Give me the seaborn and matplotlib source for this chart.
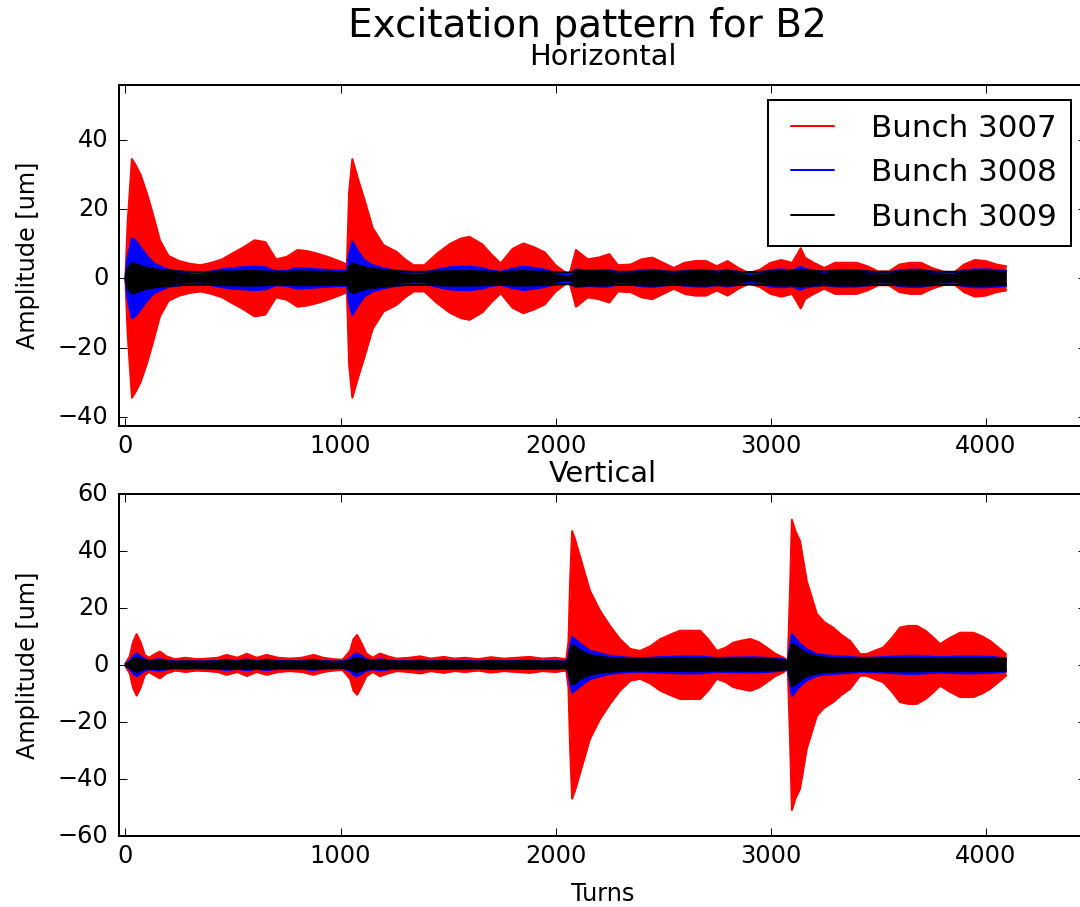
import numpy as np
import matplotlib
matplotlib.use("Agg")
import matplotlib.pyplot as plt
import seaborn as sns

# ---------------- data (amplitude envelopes) ----------------
BUNCHES = ["Bunch 3007", "Bunch 3008", "Bunch 3009"]
COLORS = ["#ff0000", "#0000ff", "#000000"]

TURNS_H = [0, 10, 30, 45, 70, 100, 130, 160, 200, 250,
           300, 350, 400, 450, 500, 550, 600, 650, 700, 750,
           800, 850, 900, 950, 1000, 1030, 1040, 1055, 1080, 1110,
           1150, 1200, 1260, 1300, 1340, 1390, 1450, 1510, 1560, 1600,
           1660, 1700, 1745, 1800, 1850, 1900, 1950, 2000, 2050, 2065,
           2095, 2150, 2200, 2250, 2290, 2350, 2400, 2450, 2500, 2550,
           2600, 2650, 2700, 2750, 2800, 2850, 2900, 2950, 3000, 3050,
           3100, 3120, 3140, 3160, 3200, 3250, 3300, 3350, 3400, 3450,
           3500, 3550, 3600, 3650, 3700, 3750, 3800, 3850, 3900, 3950,
           4000, 4050, 4095]

H_3007 = [0.5, 16, 34.5, 33, 30, 24.5, 18, 11, 6.5, 5,
          4.2, 3.8, 4.5, 5.5, 7.3, 9, 11, 10.5, 5.5, 6.2,
          8.2, 7.8, 7, 6, 4.8, 4, 25, 34.5, 29, 23,
          14.5, 9.6, 7.7, 5.5, 3.8, 3.8, 7.2, 10, 11.5, 12,
          9.8, 7, 4.3, 8.5, 10.1, 9, 7.5, 3.8, 1.5, 1.2,
          8.2, 5.5, 6, 7, 3.8, 4, 5.5, 6, 4.5, 3,
          4.5, 5, 5, 3.5, 5, 3, 1.5, 2.5, 4.5, 5.3,
          4.5, 6.5, 8.7, 6, 4.5, 3, 4.5, 4.5, 4.5, 3.5,
          2, 2, 4, 4.5, 4.5, 3, 2, 1.5, 4, 5.3,
          5, 4, 3.5]

H_3008 = [0.3, 6, 11.6, 11, 9, 6.5, 4.4, 3.5, 2.5, 2,
          1.6, 1.5, 2, 2.6, 3, 3.2, 3.4, 3.2, 2, 2.2,
          3, 2.8, 2.6, 2.4, 2.2, 2.2, 7, 10.6, 8, 5.3,
          3.8, 2.9, 2.2, 1.8, 1.5, 1.6, 2.5, 3.2, 3.4, 3.4,
          3, 2.2, 1.9, 2.8, 3.4, 3, 2.5, 1.6, 1, 1,
          2.6, 2.2, 2.4, 2.4, 1.7, 1.8, 2.3, 2.5, 2.1, 1.7,
          2.1, 2.4, 2.4, 1.9, 2.4, 1.8, 1.3, 1.6, 2.4, 2.6,
          2.3, 2.8, 3.3, 2.7, 2.3, 1.8, 2.4, 2.4, 2.4, 2,
          1.6, 1.6, 2.3, 2.5, 2.5, 1.9, 1.6, 1.5, 2.3, 2.6,
          2.6, 2.4, 2.2]

H_3009 = [0.3, 3, 4.4, 4.2, 3.6, 3, 2.7, 2.4, 2.2, 2,
          1.9, 1.8, 1.9, 2, 2, 2.1, 2.1, 2, 1.9, 1.9,
          2, 2, 1.9, 1.9, 1.8, 1.8, 3.5, 4.3, 3.8, 3.2,
          2.8, 2.4, 2.1, 2, 1.9, 1.9, 2, 2.1, 2.1, 2.1,
          2, 1.9, 1.8, 2, 2.1, 2, 1.9, 1.8, 1.7, 1.7,
          2.2, 2.1, 2.1, 2, 1.9, 1.9, 2, 2.1, 2, 1.9,
          2, 2.1, 2.1, 2, 2.1, 1.9, 1.8, 1.9, 2, 2.1,
          2.1, 2.2, 2.4, 2.2, 2.1, 2, 2.1, 2.1, 2.1, 2,
          1.9, 1.9, 2, 2.1, 2.1, 2, 1.9, 1.9, 2, 2.1,
          2.1, 2, 1.9]

TURNS_V = [0, 20, 35, 52, 70, 90, 110, 130, 160, 190,
           230, 280, 330, 380, 430, 470, 520, 564, 610, 657,
           710, 765, 820, 874, 920, 967, 1010, 1045, 1060, 1077,
           1095, 1120, 1150, 1184, 1220, 1260, 1320, 1370, 1420, 1480,
           1530, 1580, 1640, 1700, 1760, 1820, 1880, 1940, 2000, 2050,
           2060, 2068, 2077, 2091, 2114, 2160, 2207, 2253, 2300, 2347,
           2393, 2440, 2486, 2530, 2579, 2625, 2672, 2710, 2750, 2790,
           2826, 2865, 2905, 2945, 2982, 3020, 3059, 3080, 3090, 3099,
           3115, 3137, 3168, 3215, 3250, 3291, 3330, 3370, 3416, 3447,
           3485, 3524, 3565, 3602, 3640, 3680, 3720, 3757, 3788, 3835,
           3881, 3943, 3985, 4021, 4060, 4095]

V_3007 = [0.5, 3, 8, 10.8, 8, 3.5, 2.5, 3.5, 4.7, 3,
          2, 2.5, 2, 2.2, 2.5, 3.5, 2.5, 3.9, 2.5, 3.5,
          2.5, 2.2, 2.5, 3.5, 2.5, 2, 1.8, 5, 9, 10.5,
          8, 4, 2.5, 4, 3, 2.2, 2.5, 3, 2.2, 2.8,
          2.2, 2.5, 2, 2.7, 2.2, 2.5, 2.8, 2.2, 2.5, 2,
          8, 30, 47, 44, 38, 26, 19, 13.7, 9, 5.6,
          4.9, 6.5, 9, 10.5, 12, 12, 12, 9, 4.9, 6,
          7.8, 8.5, 9.1, 8, 6.1, 4, 2.6, 1.5, 25, 51,
          47, 43.5, 29.5, 17.9, 15, 13.1, 10.5, 8.4, 3.8, 3.8,
          5, 6.1, 9.5, 13.1, 13.7, 13.7, 12, 9.6, 7.3, 9.5,
          11.3, 11.3, 10, 8.4, 6, 3.8]

V_3008 = [0.3, 1.5, 3, 4, 3, 2, 1.5, 1.8, 2, 1.6,
          1.2, 1.3, 1.2, 1.3, 1.4, 1.8, 1.4, 1.9, 1.4, 1.8,
          1.4, 1.3, 1.4, 1.8, 1.4, 1.2, 1.2, 2.2, 3.5, 4,
          3.2, 2, 1.5, 2, 1.6, 1.3, 1.4, 1.6, 1.3, 1.5,
          1.3, 1.4, 1.2, 1.5, 1.3, 1.4, 1.5, 1.3, 1.4, 1.2,
          3, 7, 9.8, 9, 7.5, 5, 4, 3.2, 2.8, 2.5,
          2.4, 2.5, 2.7, 2.8, 3, 3, 3, 2.7, 2.4, 2.5,
          2.6, 2.6, 2.7, 2.6, 2.5, 2.3, 2, 1.5, 6, 10.9,
          9.5, 7.4, 5.5, 3.8, 3.4, 3.2, 3, 2.8, 2.5, 2.5,
          2.6, 2.7, 2.9, 3.1, 3.2, 3.2, 3, 2.8, 2.7, 2.8,
          3, 3, 2.9, 2.8, 2.6, 2.3]

V_3009 = [0.3, 1, 2, 2.5, 2, 1.5, 1.3, 1.4, 1.5, 1.3,
          1.1, 1.2, 1.1, 1.2, 1.2, 1.4, 1.2, 1.5, 1.2, 1.4,
          1.2, 1.2, 1.2, 1.4, 1.2, 1.1, 1.1, 1.5, 2.2, 2.5,
          2.2, 1.6, 1.3, 1.5, 1.3, 1.2, 1.2, 1.3, 1.2, 1.3,
          1.2, 1.2, 1.1, 1.3, 1.2, 1.2, 1.3, 1.2, 1.2, 1.1,
          2, 5, 7, 6.5, 5, 3.5, 2.8, 2.4, 2.2, 2,
          2, 2, 2.1, 2.1, 2.2, 2.2, 2.2, 2.1, 2, 2,
          2, 2.1, 2.1, 2, 2, 1.9, 1.7, 1.3, 4.5, 7.4,
          6.8, 5.5, 4, 3, 2.6, 2.4, 2.3, 2.2, 2.1, 2.1,
          2.1, 2.2, 2.2, 2.3, 2.3, 2.3, 2.2, 2.2, 2.1, 2.2,
          2.2, 2.2, 2.2, 2.1, 2.1, 2]

# ---------------- style ----------------
plt.style.use("classic")
sns.set_style("ticks", {"xtick.direction": "in", "ytick.direction": "in"})
plt.rcParams.update({
    "font.family": ["DejaVu Sans"],
    "font.size": 12,
    "axes.linewidth": 1.0,
    "axes.edgecolor": "black",
    "xtick.top": True, "ytick.right": True,
    "xtick.direction": "in", "ytick.direction": "in",
    "xtick.major.size": 4, "ytick.major.size": 4,
    "xtick.major.pad": 4, "ytick.major.pad": 5.5,
    "xtick.labelsize": 12, "ytick.labelsize": 12,
    "xtick.color": "black", "ytick.color": "black",
    "text.color": "black", "axes.labelcolor": "black",
    "figure.facecolor": "white", "savefig.facecolor": "white",
    "legend.numpoints": 2, "legend.fancybox": False,
})

fig = plt.figure(figsize=(1080 / 144, 907 / 144), dpi=144)
ax_h = fig.add_axes([0.1106, 0.5303, 0.895, 0.376])
ax_v = fig.add_axes([0.1106, 0.0786, 0.895, 0.3767])


def draw_panel(ax, turns, series, with_label):
    t = np.asarray(turns, dtype=float)
    for name, amp, col in zip(BUNCHES, series, COLORS):
        a = np.asarray(amp, dtype=float)
        ax.fill_between(t, -a, a, color=col, lw=0)
        sns.lineplot(x=t, y=a, color=col, lw=1.0, ax=ax,
                     label=name if with_label else None, legend=False)
        sns.lineplot(x=t, y=-a, color=col, lw=1.0, ax=ax, legend=False)


draw_panel(ax_h, TURNS_H, [H_3007, H_3008, H_3009], True)
draw_panel(ax_v, TURNS_V, [V_3007, V_3008, V_3009], False)

for ax in (ax_h, ax_v):
    ax.set_xlim(-28, 4467)
    ax.set_xticks([0, 1000, 2000, 3000, 4000])
    ax.tick_params(which="both", top=True, right=True, direction="in")
    ax.set_facecolor("white")
    for sp in ax.spines.values():
        sp.set_visible(True)
        sp.set_color("black")
        sp.set_linewidth(1.0)
    ax.set_ylabel("Amplitude [um]", fontsize=12)
    ax.yaxis.set_label_coords(-0.0817, 0.5)

ax_h.set_ylim(-42.7, 55.9)
ax_h.set_yticks([-40, -20, 0, 20, 40])
ax_v.set_ylim(-60, 60)
ax_v.set_yticks([-60, -40, -20, 0, 20, 40, 60])

ax_h.set_title("Horizontal", fontsize=14.4, pad=10)
ax_v.set_title("Vertical", fontsize=14.4, pad=6)
ax_v.set_xlabel("Turns", fontsize=12)
ax_v.xaxis.set_label_coords(0.5, -0.1355)

leg = ax_h.legend(loc="upper right", fontsize=15.5, borderaxespad=0.48,
                  frameon=True, fancybox=False, numpoints=2,
                  handlelength=2.0, handletextpad=0.9, labelspacing=0.5,
                  borderpad=0.45)
leg.get_frame().set_edgecolor("black")
leg.get_frame().set_linewidth(1.0)

fig.suptitle("Excitation pattern for B2", x=0.5435, y=1 - 36.7 / 907,
             va="baseline", ha="center", fontsize=19.5)

fig.savefig("out.png", dpi=144, facecolor="white")
